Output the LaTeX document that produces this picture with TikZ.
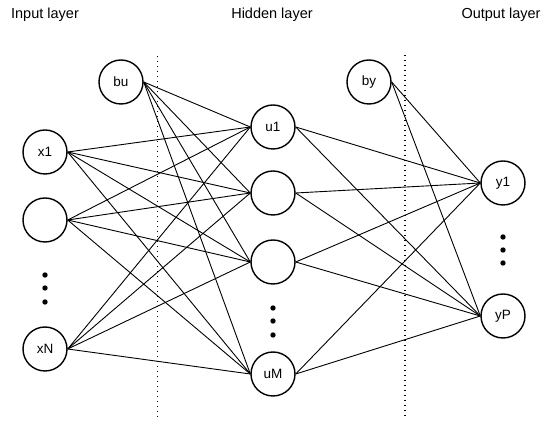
\documentclass[tikz,border=0pt]{standalone}
\usepackage{fontspec}
\setmainfont{Liberation Sans}
\tikzset{
  neuron/.style={draw, circle, line width=1.4pt, minimum size=44pt, inner sep=0pt, font=\fontsize{13.5}{15}\selectfont},
  edge/.style={line width=0.9pt},
  divider/.style={line width=1.6pt, dash pattern=on 1.4pt off 3.6pt},
  title/.style={font=\fontsize{14.5}{17}\selectfont}
}
\begin{document}
\begin{tikzpicture}[x=1pt,y=-1pt]
\useasboundingbox (0,0) rectangle (550,427);
% layer titles
\node[title] (tin) at (45,15) {Input layer};
\node[title] (thid) at (272,15) {Hidden layer};
\node[title] (tout) at (501,15) {Output layer};
% dividers
\draw[divider] (157.5,56) -- (157.5,419);
\draw[divider] (405,55) -- (405,419);
% input layer
\node[neuron] (in1) at (45,152) {x1};
\node[neuron] (in2) at (45,220) {};
\node[neuron] (inN) at (45,349) {xN};
\foreach \y in {275,288,302} \fill (45,\y) circle (2.7pt);
\node[neuron] (bu) at (121,82) {bu};
% hidden layer
\node[neuron] (hid1) at (273,127) {u1};
\node[neuron] (hid2) at (273,193) {};
\node[neuron] (hid3) at (273,262) {};
\node[neuron] (hidM) at (273,374) {uM};
\foreach \y in {308,321,335} \fill (273,\y) circle (2.7pt);
\node[neuron] (by) at (369,82) {by};
% output layer
\node[neuron] (out1) at (503,183) {y1};
\node[neuron] (outP) at (503,316) {yP};
\foreach \y in {237,250,263} \fill (503,\y) circle (2.7pt);
% weights
\foreach \a in {in1,in2,inN,bu}
  \foreach \b in {hid1,hid2,hid3,hidM}
    \draw[edge] (\a.east) -- (\b.west);
\foreach \a in {hid1,hid2,hid3,hidM,by}
  \foreach \b in {out1,outP}
    \draw[edge] (\a.east) -- (\b.west);
\end{tikzpicture}
\end{document}
